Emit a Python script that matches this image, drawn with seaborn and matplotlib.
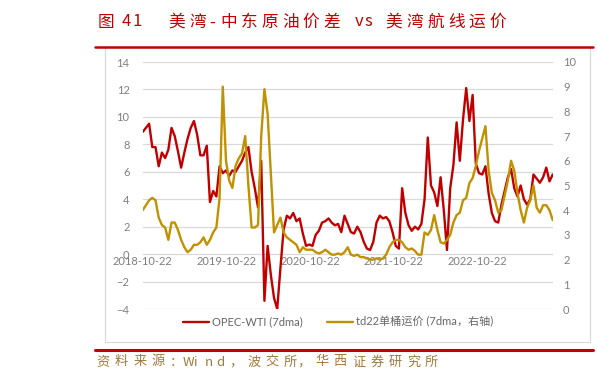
import matplotlib
matplotlib.use("Agg")
import matplotlib.pyplot as plt
import matplotlib.dates as mdates
import pandas as pd
import seaborn as sns
from matplotlib.lines import Line2D
from matplotlib.patches import Rectangle

# values, one point every 14 days from 2018-10-22
start_date = "2018-10-22"
opec_wti = [
    8.9, 9.2, 9.5, 7.8, 7.8, 6.4, 7.4, 7.0, 7.6, 9.2,
    8.6, 7.5, 6.3, 7.4, 8.4, 9.2, 9.7, 8.7, 7.2, 7.2,
    7.9, 3.8, 4.6, 4.2, 6.4, 5.9, 6.1, 5.7, 6.1, 6.0,
    6.4, 6.8, 7.4, 7.8, 6.0, 4.8, 3.4, 6.8, -3.4, 0.6,
    -1.5, -3.2, -4.0, -1.0, 1.8, 2.8, 2.6, 3.0, 2.4, 2.6,
    1.5, 0.6, 0.7, 0.6, 1.4, 1.7, 2.3, 2.4, 2.6, 2.3,
    2.1, 2.2, 1.6, 2.8, 2.2, 1.6, 1.5, 2.0, 1.6, 0.9,
    0.4, 0.3, 0.9, 2.3, 2.8, 2.6, 2.7, 2.4, 1.6, 0.6,
    0.4, 4.8, 3.0, 2.1, 1.7, 2.0, 1.8, 2.2, 4.0, 8.5,
    5.0, 4.5, 3.5, 5.6, 3.2, 0.3, 4.8, 6.5, 9.6, 6.8,
    9.8, 12.1, 9.7, 11.6, 6.6, 5.9, 5.8, 6.4, 4.4, 3.0,
    2.4, 2.3, 3.6, 4.6, 5.6, 6.2, 4.8, 4.2, 5.0, 4.0,
    3.6, 4.0, 5.8, 5.5, 5.2, 5.6, 6.3, 5.3, 5.8,
]
td22_freight = [
    4.0, 4.2, 4.4, 4.5, 4.4, 3.7, 3.4, 3.3, 2.8, 3.5,
    3.5, 3.2, 2.8, 2.5, 2.3, 2.4, 2.6, 2.6, 2.7, 2.9,
    2.6, 2.8, 3.1, 3.3, 4.5, 9.0, 6.0, 5.2, 4.9, 5.8,
    6.1, 6.3, 7.0, 5.0, 3.3, 3.3, 3.4, 7.0, 8.9, 7.9,
    5.5, 3.1, 3.4, 3.7, 3.1, 2.9, 2.8, 2.7, 2.6, 2.3,
    2.5, 2.4, 2.4, 2.4, 2.3, 2.25, 2.3, 2.4, 2.3, 2.2,
    2.2, 2.25, 2.2, 2.3, 2.5, 2.2, 2.15, 2.2, 2.1, 2.1,
    2.05, 2.0, 2.0, 2.05, 2.0, 2.05, 2.2, 2.5, 2.7, 2.8,
    2.8, 2.7, 2.5, 2.4, 2.45, 2.35, 2.2, 2.2, 3.1, 3.0,
    3.2, 3.8, 3.2, 2.7, 2.65, 2.8, 3.0, 3.5, 3.8, 3.9,
    4.4, 4.5, 5.1, 5.3, 5.8, 6.4, 6.9, 7.4, 5.6, 4.7,
    4.4, 3.9, 4.0, 4.6, 5.2, 6.0, 5.6, 4.7, 4.0, 3.5,
    4.1, 4.4, 5.0, 4.1, 3.9, 4.2, 4.2, 4.0, 3.6,
]
tick_dates = ["2018-10-22", "2019-10-22", "2020-10-22", "2021-10-22", "2022-10-22"]
left_ticks = list(range(-4, 15, 2))
right_ticks = list(range(0, 11))

title_parts = [(97.4, "图"), (122, "41"), (168.3, "美湾-中东原油价差 vs 美湾航线运价")]
source_parts = [(96.7, "资料来源："), (183, "Wind"), (229, "，波交所"), (297, "，华西证券研究所")]
label_red = "OPEC-WTI (7dma)"
label_gold = "td22单桶运价 (7dma，右轴)"

RED = "#C00000"
GOLD = "#C09100"
GREY = "#7F7F7F"
W, H = 597, 382

df = pd.DataFrame({
    "date": pd.date_range(start_date, periods=len(opec_wti), freq="14D"),
    "opec_wti": opec_wti,
    "td22": td22_freight,
})

sns.set_theme(style="white")
plt.rcParams["font.family"] = ["Lato", "Noto Sans CJK SC"]
CJK = ["Noto Sans CJK SC", "DejaVu Sans"]


def px(x, y):
    return x / W, 1 - y / H


def spaced_text(fig, x, y, s, adv, size, color):
    # the report fonts use a fixed cell width, so place char by char
    for ch in s:
        fig.text(*px(x, y), ch, ha="left", va="center", fontsize=size,
                 color=color, family=CJK)
        x += adv if ord(ch) > 0x2000 else adv / 2


fig = plt.figure(figsize=(W / 100, H / 100), dpi=100)
ax = fig.add_axes([142.7 / W, 1 - 309 / H, 410 / W, 247 / H])

sns.lineplot(data=df, x="date", y="opec_wti", ax=ax, color=RED, lw=1.7,
             label=label_red, legend=False)
ax2 = ax.twinx()
sns.lineplot(data=df, x="date", y="td22", ax=ax2, color=GOLD, lw=1.7,
             label=label_gold, legend=False)

ax.set_xlim(df["date"].iloc[0], df["date"].iloc[-1])
ax.set_ylim(-4, 14)
ax2.set_ylim(0, 10)
ax.set_yticks(left_ticks)
ax2.set_yticks(right_ticks)
ax.set_xticks(pd.to_datetime(tick_dates))
ax.xaxis.set_major_formatter(mdates.DateFormatter("%Y-%m-%d"))
for a in (ax, ax2):
    a.set_xlabel("")
    a.set_ylabel("")
    for sp in a.spines.values():
        sp.set_visible(False)
ax.spines["bottom"].set_position(("data", 0))

ax.yaxis.grid(True, color="#D9D9D9", lw=0.9)
ax.xaxis.grid(False)
ax2.grid(False)
ax.set_axisbelow(True)
ax.tick_params(axis="x", length=0, pad=1.5, labelsize=8, labelcolor=GREY)
ax.tick_params(axis="y", length=0, pad=9.5, labelsize=8, labelcolor=GREY)
ax2.tick_params(axis="y", length=0, pad=7.5, labelsize=8, labelcolor=GREY)

h1, l1 = ax.get_legend_handles_labels()
h2, l2 = ax2.get_legend_handles_labels()
fig.legend(h1 + h2, l1 + l2, loc="center left", bbox_to_anchor=px(183, 322),
           ncol=2, frameon=False, fontsize=8, labelcolor="#666666",
           handlelength=2.3, handletextpad=0.3, columnspacing=2.2, borderpad=0,
           borderaxespad=0)

# report frame and rules
fig.add_artist(Rectangle(px(105, 341.7), (589.7 - 105) / W, (341.7 - 47) / H,
                         transform=fig.transFigure, fill=False,
                         edgecolor="#D9D9D9", lw=0.9))
fig.add_artist(Line2D([95 / W, 593 / W], [1 - 46.7 / H] * 2, color=RED, lw=1.8))
fig.add_artist(Line2D([95 / W, 593 / W], [1 - 350 / H] * 2, color=RED, lw=2.2))

for x0, part in title_parts:
    spaced_text(fig, x0, 22, part, 20.7, 12, RED)
for x0, part in source_parts:
    spaced_text(fig, x0, 362, part, 22 if part.isascii() else 18.3, 9.5, "#A07A3C")

fig.savefig("out.png", dpi=100)
